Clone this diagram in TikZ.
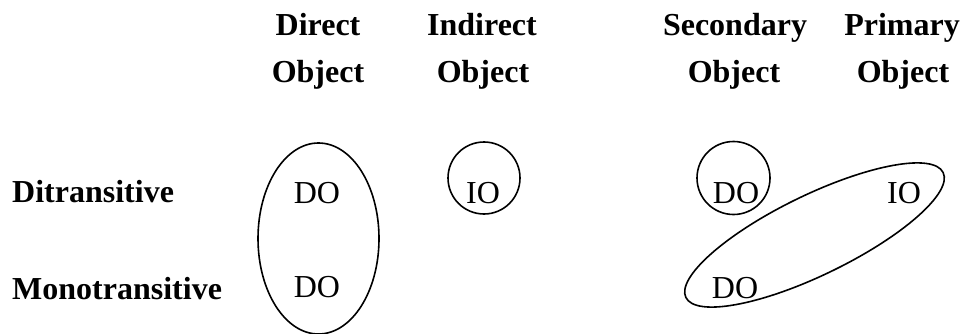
\documentclass[tikz,border=0pt]{standalone}
\usepackage{fontspec}
\setmainfont{Liberation Serif}
\usetikzlibrary{shapes.geometric}
\begin{document}
\begin{tikzpicture}[x=1pt,y=-1pt,
  lbl/.style={anchor=base,inner sep=0pt,font=\fontsize{32}{38}\selectfont\bfseries},
  rowlbl/.style={anchor=base west,inner sep=0pt,font=\fontsize{32}{38}\selectfont\bfseries},
  item/.style={anchor=base,inner sep=0pt,font=\fontsize{32}{38}\selectfont},
  ring/.style={draw,line width=1.6pt,inner sep=0pt}]
\useasboundingbox (0,0) rectangle (968,334);
% headers
\node[lbl] (h1a) at (318,36) {Direct};
\node[lbl] (h1b) at (318,83) {Object};
\node[lbl] (h2a) at (482,36) {Indirect};
\node[lbl] (h2b) at (483,83) {Object};
\node[lbl] (h3a) at (735,36) {Secondary};
\node[lbl] (h3b) at (734,83) {Object};
\node[lbl] (h4a) at (902,36) {Primary};
\node[lbl] (h4b) at (903,83) {Object};
% row labels
\node[rowlbl] (r1) at (12,202) {Ditransitive};
\node[rowlbl] (r2) at (12,299) {Monotransitive};
% items
\node[item] (do1) at (317,203) {DO};
\node[item] (do2) at (317,297) {DO};
\node[item] (io1) at (483,203) {IO};
\node[item] (do3) at (736,203) {DO};
\node[item] (io2) at (904,203) {IO};
\node[item] (do4) at (735,298) {DO};
% enclosures
\node[ring,ellipse,minimum width=121pt,minimum height=191pt] (e1) at (318.5,238.5) {};
\node[ring,circle,minimum size=72pt] (c1) at (484,178) {};
\node[ring,circle,minimum size=73pt] (c2) at (733.5,178) {};
\node[ring,ellipse,minimum width=286pt,minimum height=80pt,rotate=25.9] (e2) at (814.5,235) {};
\end{tikzpicture}
\end{document}
